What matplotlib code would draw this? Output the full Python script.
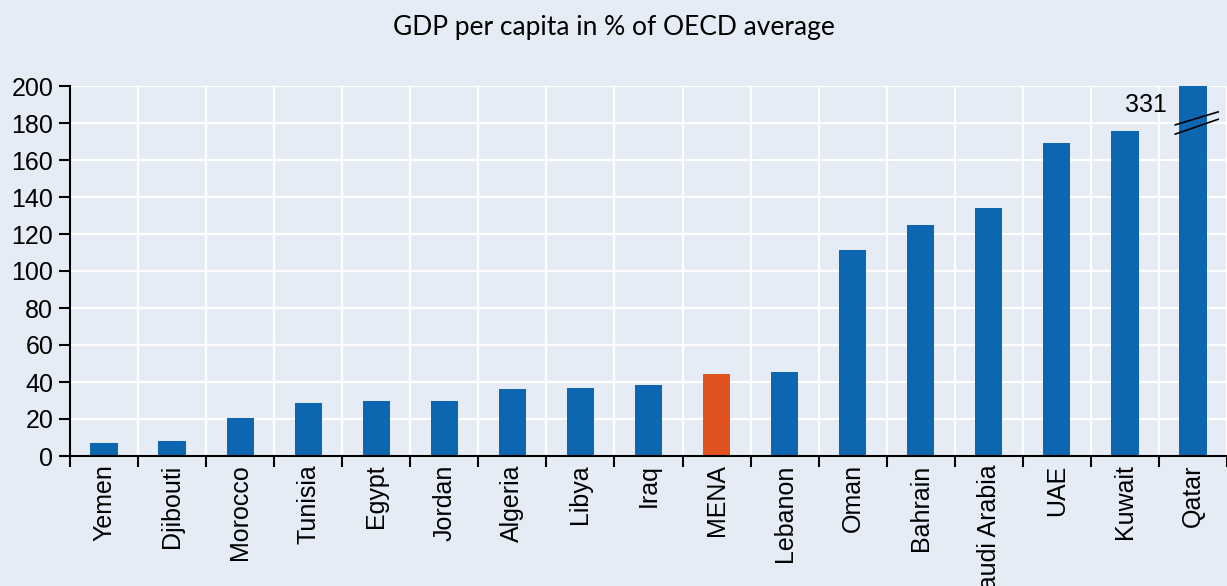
import matplotlib.pyplot as plt

countries = ["Yemen", "Djibouti", "Morocco", "Tunisia", "Egypt", "Jordan", "Algeria",
             "Libya", "Iraq", "MENA", "Lebanon", "Oman", "Bahrain", "Saudi Arabia",
             "UAE", "Kuwait", "Qatar"]
gdp_pct = [7, 8, 20.5, 28.5, 29.5, 30, 36, 36.5, 38.5, 44.5, 45.5, 111.5, 125, 134,
           169, 175.5, 331]

blue = "#0C67B0"
orange = "#E0521F"
bg = "#E6ECF5"

plt.rcParams['font.family'] = ['Liberation Sans', 'DejaVu Sans']

fig = plt.figure(figsize=(12.27, 5.86), dpi=100, facecolor=bg)
ax = fig.add_axes([70 / 1227, (586 - 456) / 586, 1 - 70 / 1227, 370 / 586])
ax.set_facecolor(bg)

ymax = 200
x = list(range(len(countries)))
colors = [orange if c == "MENA" else blue for c in countries]
shown = [min(v, ymax) for v in gdp_pct]
ax.bar(x, shown, width=0.4, color=colors, zorder=3, clip_on=False)

ax.set_ylim(0, ymax)
# categories sit 68.5 px apart; the last one runs up against the right edge
ax.set_xlim(-0.5, -0.5 + 1157 / 68.5)
ax.set_yticks(range(0, 201, 20))
ax.set_xticks([i + 0.5 for i in range(-1, len(countries))])
ax.set_xticklabels([])
ax.set_xticks(x, minor=True)
ax.set_xticklabels(countries, minor=True, rotation=90, fontsize=18)
ax.tick_params(axis='x', which='minor', length=0, pad=6)
ax.tick_params(axis='x', which='major', length=8, width=1.5, direction='out')
ax.tick_params(axis='y', length=8, width=1.5, labelsize=18, pad=4)

ax.grid(True, axis='y', color='white', linewidth=1.6, zorder=0)
ax.grid(True, axis='x', which='major', color='white', linewidth=1.6, zorder=0)

for side in ['top', 'right']:
    ax.spines[side].set_visible(False)
for side in ['left', 'bottom']:
    ax.spines[side].set_linewidth(1.5)
    ax.spines[side].set_zorder(4)

# break marks on the Qatar bar, which runs off the scale
qi = countries.index("Qatar")
for y0, y1 in [(179, 186), (174, 182)]:
    ax.plot([qi - 0.26, qi + 0.37], [y0, y1], color='black',
            linewidth=1.2, zorder=5, clip_on=False)
ax.text(qi - 0.39, 190, str(gdp_pct[qi]), ha='right', va='center', fontsize=18)

fig.text(0.5, 1 - 27 / 586, "GDP per capita in % of OECD average", ha='center',
         va='center', fontsize=19, family=['Lato', 'DejaVu Sans'])

fig.savefig("out.png", dpi=100, facecolor=bg)
